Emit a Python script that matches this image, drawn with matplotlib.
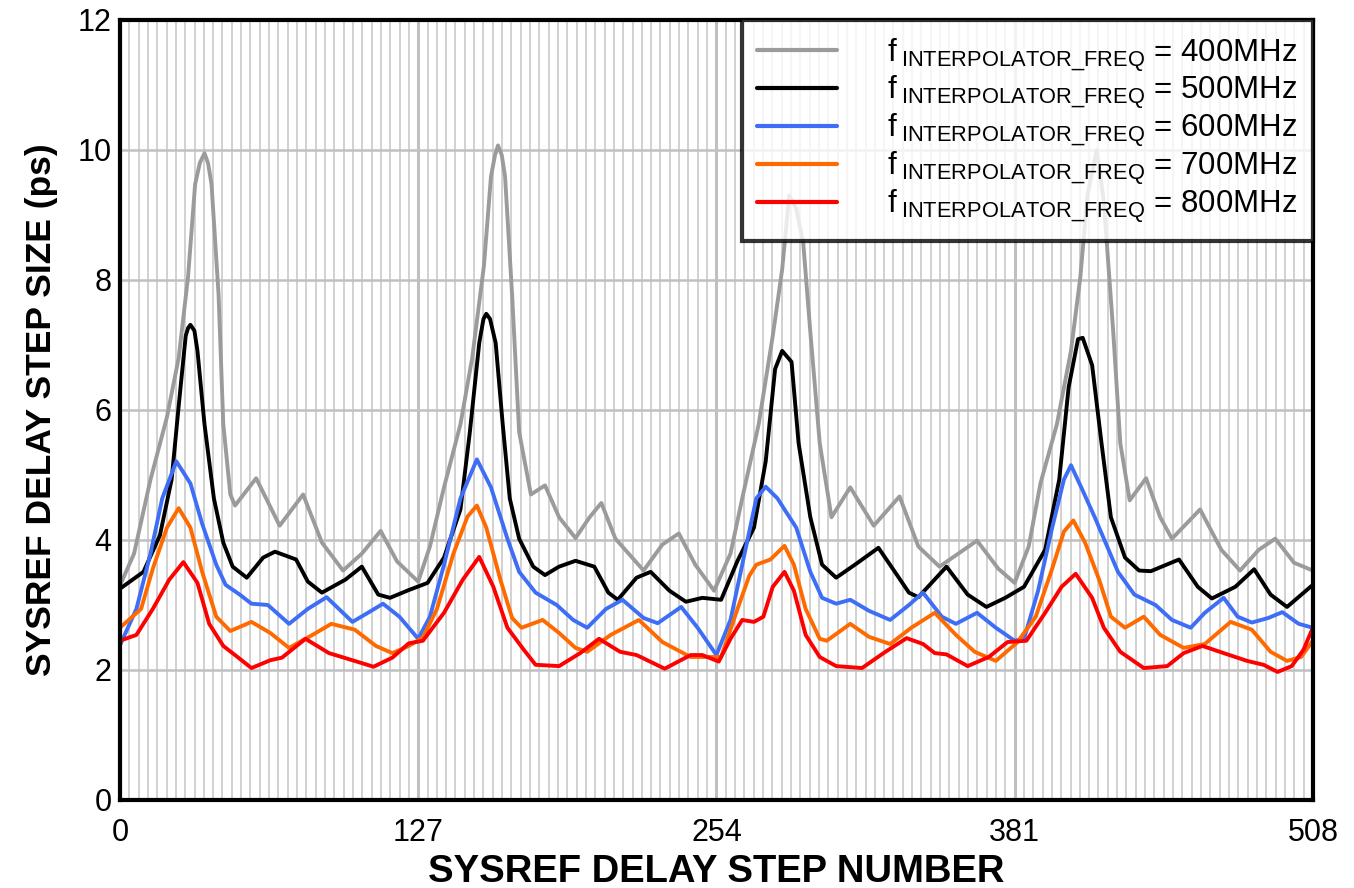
import numpy as np
import matplotlib
matplotlib.use("Agg")
from matplotlib import pyplot as plt
from matplotlib.ticker import MultipleLocator

plt.rcParams['font.family'] = ['Liberation Sans', 'DejaVu Sans']
plt.rcParams['mathtext.fontset'] = 'custom'
plt.rcParams['mathtext.rm'] = 'Liberation Sans'

# measured step size (ps) vs delay step number, one trace per interpolator freq
x400 = [0, 6, 13, 20, 25, 29, 32, 34, 36, 37.5, 39, 42, 44, 47, 49, 58, 68, 78, 86, 95, 103,
        111, 118,
        127, 132, 138, 145, 150, 155, 158, 159.7, 161, 162.6, 164, 167, 170, 175, 181, 187,
        194, 200, 205, 211, 223, 231, 238, 245, 253,
        260, 265, 272, 278, 282, 285, 288, 291, 294, 298, 303, 311, 321, 332, 340, 349, 357,
        365, 374, 381,
        387, 392, 399, 405, 409, 412, 416, 419, 423, 426, 430, 437, 443, 448, 460, 469, 477,
        485, 492, 500, 508]
y400 = [3.3, 3.79, 4.93, 5.89, 6.8, 8.05, 9.47, 9.8, 9.95, 9.8, 9.47, 7.77, 5.78, 4.7, 4.53,
        4.95, 4.22, 4.7, 3.96, 3.53, 3.79, 4.14, 3.67,
        3.36, 3.9, 4.81, 5.78, 6.8, 8.22, 9.59, 9.92, 10.07, 9.92, 9.59, 7.77, 5.66, 4.7,
        4.84, 4.35, 4.03, 4.35, 4.57, 4.02, 3.53, 3.93, 4.1, 3.62, 3.22,
        3.79, 4.64, 5.78, 7.14, 8.16, 9.3, 9.1, 8.56, 7.2, 5.49, 4.35, 4.81, 4.22, 4.67, 3.9,
        3.59, 3.79, 3.99, 3.56, 3.34,
        3.9, 4.87, 5.78, 6.91, 8.05, 9.3, 10.0, 9.2, 7.2, 5.49, 4.61, 4.95, 4.35, 4.02, 4.47,
        3.85, 3.53, 3.85, 4.02, 3.65, 3.53]

x500 = [0, 10, 17, 22, 25, 28, 29, 30, 31.7, 33, 36, 40, 44, 48, 54, 61, 66, 75, 80, 86, 96,
        103, 110, 115, 123,
        131, 138, 145, 149, 153, 154.8, 156, 157.6, 160, 163, 166, 170, 176, 181, 187, 194,
        202, 208, 212, 220, 226, 234, 241, 248,
        256, 263, 270, 275, 279, 282, 286, 289, 294, 299, 305, 313, 323, 330, 336, 340, 352,
        361, 369, 377,
        385, 394, 400, 404, 408, 410, 414, 418, 422, 428, 434, 439, 451, 459, 465, 475, 483,
        490, 497, 508]
y500 = [3.25, 3.51, 4.07, 4.93, 6.06, 7.14, 7.26, 7.31, 7.22, 6.91, 5.78, 4.64, 3.96, 3.59,
        3.42, 3.73, 3.82, 3.7, 3.36, 3.19, 3.39, 3.59, 3.16, 3.11, 3.23,
        3.34, 3.73, 4.47, 5.66, 7.03, 7.4, 7.48, 7.4, 7.03, 5.78, 4.64, 4.02, 3.59, 3.46,
        3.59, 3.68, 3.59, 3.19, 3.08, 3.42, 3.51, 3.22, 3.05, 3.11,
        3.08, 3.68, 4.19, 5.21, 6.63, 6.91, 6.74, 5.49, 4.35, 3.62, 3.42, 3.62, 3.88, 3.51,
        3.19, 3.12, 3.59, 3.16, 2.97, 3.11,
        3.28, 3.85, 4.93, 6.35, 7.09, 7.11, 6.69, 5.49, 4.35, 3.73, 3.53, 3.52, 3.7, 3.28,
        3.1, 3.28, 3.55, 3.16, 2.97, 3.31]

x600 = [0, 7, 13, 18, 24, 30, 35, 41, 45, 51, 56, 63, 72, 80, 88, 99, 107, 112, 119, 127,
        132, 138, 145, 152, 158, 165, 170, 177, 186, 193, 199, 207, 214, 223, 229, 239, 246,
        254,
        260, 265, 271, 275, 280, 283, 288, 294, 299, 305, 311, 319, 328, 336, 342, 350, 356,
        365, 373, 381,
        385, 391, 397, 402, 405, 410, 415, 419, 425, 432, 441, 448, 456, 462, 470, 476, 482,
        489, 495, 502, 508]
y600 = [2.38, 2.94, 3.79, 4.64, 5.21, 4.87, 4.25, 3.62, 3.31, 3.16, 3.02, 3.0, 2.71, 2.94,
        3.12, 2.74, 2.91, 3.02, 2.82, 2.48,
        2.82, 3.62, 4.64, 5.24, 4.81, 4.02, 3.51, 3.19, 3.0, 2.77, 2.65, 2.94, 3.08, 2.8,
        2.72, 2.97, 2.65, 2.23,
        2.77, 3.62, 4.64, 4.82, 4.64, 4.47, 4.19, 3.51, 3.11, 3.02, 3.08, 2.91, 2.77, 3.0,
        3.19, 2.82, 2.71, 2.88, 2.65, 2.45,
        2.48, 3.22, 4.19, 4.93, 5.15, 4.76, 4.36, 4.02, 3.51, 3.16, 3.0, 2.77, 2.65, 2.88,
        3.11, 2.82, 2.73, 2.8, 2.89, 2.71, 2.65]

x700 = [0, 9, 14, 20, 25, 30, 35, 41, 47, 56, 64, 72, 82, 90, 100, 109, 116, 123,
        129, 135, 142, 148, 152, 156, 162, 167, 171, 180, 187, 194, 199, 209, 221, 231, 243,
        256, 263, 268, 271, 277, 283, 287, 292, 298, 301, 311, 319, 328, 337, 347, 356, 364,
        373, 382,
        390, 397, 402, 406, 411, 417, 422, 428, 436, 443, 453, 462, 473, 482, 490, 497, 503,
        508]
y700 = [2.65, 2.94, 3.56, 4.19, 4.49, 4.19, 3.51, 2.82, 2.6, 2.74, 2.57, 2.34, 2.54, 2.71,
        2.62, 2.37, 2.26, 2.37,
        2.5, 2.94, 3.79, 4.36, 4.53, 4.19, 3.39, 2.8, 2.65, 2.77, 2.57, 2.34, 2.28, 2.54,
        2.77, 2.43, 2.2,
        2.2, 2.94, 3.45, 3.62, 3.7, 3.91, 3.62, 2.94, 2.48, 2.45, 2.71, 2.51, 2.4, 2.65,
        2.88, 2.54, 2.28, 2.14, 2.42,
        2.82, 3.56, 4.13, 4.3, 3.96, 3.39, 2.82, 2.65, 2.82, 2.54, 2.34, 2.4, 2.74, 2.62,
        2.28, 2.14, 2.2, 2.45]

x800 = [0, 7, 14, 21, 27, 33, 38, 44, 49, 56, 64, 69, 79, 89, 99, 108, 116, 123,
        129, 138, 146, 153, 159, 165, 172, 177, 187, 196, 204, 213, 220, 232, 243, 248,
        255, 260, 265, 270, 274, 278, 283, 287, 292, 298, 305, 316, 326, 335, 342, 347, 352,
        361, 370, 378,
        386, 394, 401, 407, 414, 419, 426, 436, 446, 453, 461, 470, 480, 487, 493, 499, 504,
        508]
y800 = [2.45, 2.54, 2.94, 3.39, 3.66, 3.34, 2.71, 2.37, 2.23, 2.03, 2.15, 2.19, 2.48, 2.26,
        2.15, 2.05, 2.19, 2.41,
        2.45, 2.88, 3.39, 3.74, 3.28, 2.65, 2.31, 2.08, 2.06, 2.26, 2.48, 2.28, 2.23, 2.02,
        2.23, 2.23,
        2.13, 2.48, 2.77, 2.74, 2.82, 3.28, 3.51, 3.22, 2.54, 2.2, 2.06, 2.03, 2.28, 2.49,
        2.4, 2.26, 2.24, 2.06, 2.2, 2.43,
        2.45, 2.88, 3.28, 3.48, 3.11, 2.65, 2.28, 2.03, 2.06, 2.26, 2.37, 2.26, 2.14, 2.08,
        1.97, 2.06, 2.31, 2.65]

freqs = ["400MHz", "500MHz", "600MHz", "700MHz", "800MHz"]
colors = ["#9b9b9b", "#000000", "#3d6ef5", "#ff6a00", "#ff0000"]
xs = [x400, x500, x600, x700, x800]
ys = [y400, y500, y600, y700, y800]

fig = plt.figure(figsize=(13.54, 8.88), dpi=100)
ax = fig.add_axes([0.0886, 0.0991, 0.881, 0.8784])

for x, y, c, f in zip(xs, ys, colors, freqs):
    lab = r"$\mathregular{f}\,{}_{\mathregular{INTERPOLATOR\_FREQ}}$ = " + f
    ax.plot(x, y, color=c, lw=2.8, solid_joinstyle='round', solid_capstyle='round',
            label=lab)

ax.set_xlim(0, 508)
ax.set_ylim(0, 12)
ax.xaxis.set_major_locator(MultipleLocator(127))
ax.xaxis.set_minor_locator(MultipleLocator(127 / 32))
ax.yaxis.set_major_locator(MultipleLocator(2))

ax.grid(which='minor', axis='x', color='#cacaca', lw=1.2)
ax.grid(which='major', axis='x', color='#c0c0c0', lw=2.2)
ax.grid(which='major', axis='y', color='#c0c0c0', lw=1.8)
ax.set_axisbelow(True)

ax.tick_params(which='both', length=0, labelsize=22, pad=13)
ax.tick_params(axis='y', pad=6)
for s in ax.spines.values():
    s.set_linewidth(3)

ax.set_xlabel("SYSREF DELAY STEP NUMBER", fontsize=27.5, fontweight='bold', labelpad=4)
ax.set_ylabel("SYSREF DELAY STEP SIZE (ps)", fontsize=25.5, fontweight='bold', labelpad=14)

leg = ax.legend(loc='upper right', fontsize=22.5, frameon=True, fancybox=False,
                borderaxespad=0, handlelength=2.55, handletextpad=1.6,
                labelspacing=0.0, borderpad=0.5)
leg.get_frame().set_edgecolor('black')
leg.get_frame().set_linewidth(3)
for h in leg.get_lines():
    h.set_linewidth(3)

fig.savefig("out.png", dpi=100)
